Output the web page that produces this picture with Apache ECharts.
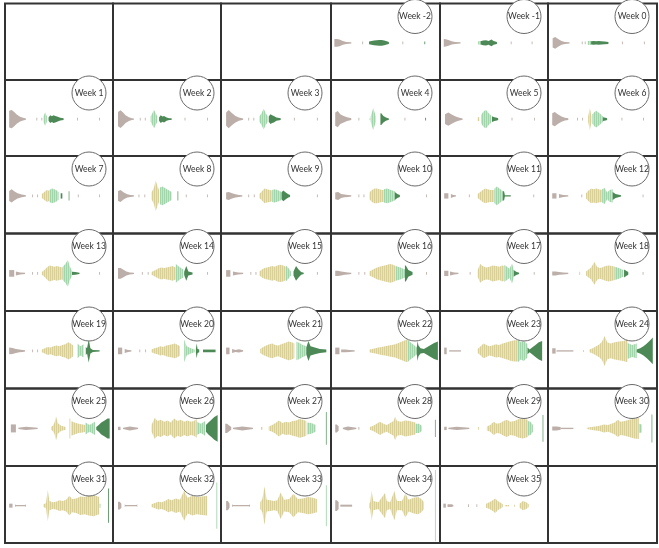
<!DOCTYPE html>
<html><head><meta charset="utf-8">
<script src="https://cdn.jsdelivr.net/npm/echarts@6/dist/echarts.min.js"></script>
<style>html,body{margin:0;padding:0;background:#fff;}#c{width:659px;height:548px;}</style>
</head><body><div id="c"></div>
<script>
// ---- DATA: each segment = [colourCode, x, halfHeight, x, halfHeight, ...] ----
const weekLabels = ['Week -2','Week -1','Week 0','Week 1','Week 2','Week 3','Week 4','Week 5','Week 6','Week 7','Week 8','Week 9','Week 10','Week 11','Week 12','Week 13','Week 14','Week 15','Week 16','Week 17','Week 18','Week 19','Week 20','Week 21','Week 22','Week 23','Week 24','Week 25','Week 26','Week 27','Week 28','Week 29','Week 30','Week 31','Week 32','Week 33','Week 34','Week 35'];

const weekM2 = [['g',8,12,14,12,20,10,28,6,36,3,48,2],['g',74,4,76,4],['d',90,4,96,6,102,7,108,8,114,9,120,9,126,7,132,5,137,3],['g',169,4,171,4],['d',221,4,223,4]];
const weekM1 = [['g',9,12,14,11,20,9,28,5,36,3,49,2],['l',91,5,97,6],['d',97,5,103,7,110,8,116,6,123,10,128,6,136,3],['g',169,4,171,4],['g',219,4,221,4]];
const week0 = [['g',11,14,17,18,24,12,32,6,40,3,51,2],['g',80,4,82,4],['g',87,4,89,4],['l',94,6,102,6],['d',102,5,108,6,114,5,120,6,126,5,134,4,143,3],['g',175,4,177,4],['g',227,4,229,4]];
const week1 = [['g',10,26,16,28,22,22,28,14,36,7,43,4,50,2],['g',75,4,77,4],['g',87,4,89,4],['l',92,8,96,21,100,8],['d',104,5,108,12,112,9,116,12,120,10,126,7,132,4,140,3],['g',172,4,174,4],['g',225,4,227,4]];
const week2 = [['g',12,22,18,27,24,20,30,12,38,6,45,3,50,2],['g',64,4,66,4],['g',76,4,78,4],['l',90,8,98,28,106,8],['d',110,5,114,12,118,8,122,10,128,5,134,3,140,3],['g',171,4,173,4],['g',225,4,227,4]];
const week3 = [['g',12,20,18,28,26,18,34,10,42,5,52,2],['g',64,4,66,4],['g',76,4,78,4],['l',90,8,95,18,100,32,105,18,110,8],['d',112,8,116,15,120,12,124,10,130,5,140,3],['g',171,4,173,4],['g',225,4,227,4]];
const week4 = [['g',10,20,16,25,22,15,30,10,38,6,48,3],['g',65,4,67,4],['y',91,3,93,3],['l',94,8,100,34,106,8],['d',117,18,119,18,124,10,130,5,137,2],['g',174,4,176,4],['d',223,4,225,4]];
const week5 = [['g',12,15,20,20,28,14,36,9,44,5,54,2],['y',90,6,94,6],['l',98,12,102,20,106,26,110,28,114,22,118,16,122,12],['d',124,9,130,6,136,4,139,3],['g',171,4,173,4],['g',225,4,227,4]];
const week6 = [['g',10,18,16,22,24,14,32,8,40,4,48,3],['g',69,4,71,4],['g',81,4,83,4],['y',95,8,99,34,103,8],['l',105,14,110,22,114,26,118,22,124,16,130,8],['d',130,6,136,4,140,3],['g',174,4,176,4],['g',225,4,227,4]];
const week7 = [['g',10,15,16,20,22,14,30,8,40,4,50,2],['g',65,4,67,4],['g',77,4,79,4],['y',88,6,94,12,98,16,102,18,106,14],['l',106,18,112,22,118,20,124,16,128,10],['d',133,8,137,8],['m',152,14,154,14],['g',174,4,176,4],['g',225,4,227,4]];
const week8 = [['g',12,15,18,18,26,10,34,5,42,3,50,2],['g',61,4,63,4],['g',75,4,77,4],['y',92,10,98,25,102,46,106,30,110,18],['l',112,25,118,28,124,24,132,18,140,12],['m',154,14,156,14],['g',174,4,176,4],['g',225,4,227,4]];
const week9 = [['g',12,10,18,12,26,8,34,5,42,3,50,2],['g',64,4,66,4],['g',77,4,79,4],['y',90,6,96,14,102,22,108,20,114,18,120,16],['l',120,18,126,20,134,17,142,12],['d',142,10,146,16,152,10,158,5,162,3],['g',225,4,227,4]];
const week10 = [['g',10,10,17,12,24,6,32,4,40,3,48,2],['g',65,4,67,4],['g',77,4,79,4],['y',91,10,97,18,103,22,109,22,115,20,121,18,125,18],['l',125,20,133,22,142,18,151,14],['d',151,12,157,6,163,3],['g',225,4,227,4]];
const week11 = [['g',10,8,20,8],['g',26,6,32,3,38,2],['g',69,4,71,4],['y',90,6,96,12,102,18,108,22,114,20,120,18,130,18],['l',130,22,136,28,142,22,150,14],['d',150,14,153,14,155,2,169,2],['g',223,4,225,4]];
const week12 = [['g',10,8,20,8],['g',26,6,36,3,48,2],['g',79,4,81,4],['y',90,8,96,16,102,22,108,20,114,22,120,20,128,18],['l',128,20,134,24,140,10,146,18,153,20],['d',153,12,160,6,173,2],['g',224,4,226,4]];
const week13 = [['g',10,10,22,10],['g',26,6,36,3,48,2],['g',65,4,67,4],['g',77,4,79,4],['y',88,4,94,10,100,18,106,24,112,22,118,20,124,22,130,20,138,18],['l',138,20,144,28,150,40,155,20,160,8],['d',160,5,168,4,178,2],['g',225,4,227,4]];
const week14 = [['g',12,16,18,16,24,12,32,6,40,3,50,2],['g',69,4,71,4],['g',83,4,85,4],['y',92,4,98,8,104,12,110,16,116,18,122,16,128,18,136,20,142,22,150,18],['l',150,28,158,20,168,12],['d',170,5,175,22,180,6,190,3],['g',225,4,227,4]];
const week15 = [['g',12,10,22,10],['g',28,6,40,3,52,2],['g',69,4,71,4],['g',81,4,83,4],['y',90,6,96,12,102,16,108,18,114,20,120,22,126,20,132,24,138,26,146,24,152,20],['l',152,24,158,16,164,6],['d',170,6,176,22,182,12,188,4,194,2],['g',225,4,227,4]];
const week16 = [['g',10,8,16,8,24,6,32,4,40,3,48,2],['g',65,4,67,4],['g',79,4,81,4],['y',91,6,97,10,103,14,109,18,115,20,121,22,127,24,133,26,140,28,147,26,153,22],['l',153,22,164,18,175,12],['d',175,24,177,24,183,10,193,4],['g',225,4,227,4]];
const week17 = [['g',10,8,20,8],['g',24,6,34,3,44,2],['g',71,4,73,4],['y',90,10,96,28,102,22,110,18,118,20,126,24,134,22,142,20,148,24,154,22],['l',154,26,160,20,166,14,172,30,176,12],['d',176,10,182,5,189,2],['g',224,4,226,4]];
const week18 = [['g',10,6,18,6,26,4,36,3,48,2],['y',74,5,76,5],['y',90,6,96,12,102,18,110,34,116,20,122,16,128,18,136,22,144,24,152,22,158,20],['l',158,20,168,16,178,10],['d',180,12,185,8,190,4],['g',224,4,226,4]];
const week19 = [['g',10,10,18,9,26,6,34,4,42,3,48,2],['g',65,4,67,4],['g',77,4,79,4],['y',88,4,95,8,102,12,109,10,116,14,123,16,130,14,137,18,144,20,151,26,157,22,163,16],['l',173,22,180,14,188,20],['d',193,12,196,8,200,35,204,8,210,3,226,2]];
const week20 = [['g',12,10,22,10],['g',28,6,36,3,44,2],['g',63,4,65,4],['g',77,4,79,4],['y',92,4,99,8,106,10,113,14,120,12,127,16,134,18,141,20,148,22,155,18,160,14],['l',170,34,176,14,186,8,195,4],['d',198,6,200,22,202,6,206,4],['d',215,4,245,4]];
const week21 = [['g',12,10,20,10],['g',26,6,34,3,42,5,52,2],['y',92,6,99,12,106,16,113,20,120,22,127,18,134,16,141,20,150,24,158,28,166,26,172,22],['l',177,28,184,24,192,18,200,14],['d',200,10,205,30,210,14,220,10,232,6,247,4]];
const week22 = [['g',10,10,20,10],['g',24,4,34,4,44,3,56,2],['y',91,4,98,6,105,8,112,10,120,12,128,14,136,16,144,18,152,20,160,24,168,28,175,32,181,34],['l',181,34,188,26,196,18,203,10],['d',203,10,205,30,207,16,212,8,220,6,228,12,236,18,244,24,253,28]];
const week23 = [['g',10,10,16,10],['g',22,2,50,2],['y',90,6,97,14,104,22,111,18,118,14,125,16,133,20,141,18,150,22,160,26,170,30,178,32,186,32],['l',186,34,193,26,200,30,209,20],['d',209,10,214,4,220,10,228,18,236,26,244,30]];
const week24 = [['g',10,8,18,8],['g',20,2,60,2],['y',83,3,85,3],['y',98,4,106,8,114,14,122,20,128,28,134,45,140,26,148,22,158,26,168,28,178,30,188,34],['l',188,24,199,18,210,22],['d',210,4,218,8,226,14,234,22,242,32,248,40]];
const week25 = [['g',14,12,26,12],['g',32,2,50,5,78,2],['y',110,4,114,8,118,16,122,36,126,16,134,8,145,4],['y',154,30,156,30],['y',158,22,166,18,176,14,186,12,192,10],['l',192,18,202,10,215,20],['d',218,4,224,10,230,18,238,24,245,30,250,30]];
const week26 = [['g',12,5,18,5],['g',24,2,40,6,60,2],['y',92,10,100,32,106,22,114,26,122,20,130,24,138,18,146,30,154,22,162,26,170,20,178,24,186,20,193,22,200,28],['l',200,20,210,14,220,22],['d',222,10,228,18,235,26,242,34,250,40]];
const week27 = [['g',10,14,14,14,20,8,24,4],['g',28,2,50,6,75,2],['y',94,4,97,4],['y',112,6,120,10,128,16,136,24,144,16,152,20,160,18,168,22,176,24,184,28,192,26,200,22],['l',202,18,212,16,222,10],['m',246,49,248,49]];
const week28 = [['g',10,12,14,12,18,6],['g',28,2,40,6,60,2],['g',65,4,67,4],['y',92,4,100,8,108,14,116,20,124,14,132,10,140,16,148,22,152,36,156,22,166,20,176,24,186,22,200,18],['l',200,14,208,14,215,8],['m',246,26,248,26]];
const week29 = [['g',10,5,16,5],['g',20,2,40,5,70,2],['y',91,4,93,4],['y',112,6,120,10,128,20,136,14,144,16,152,22,160,26,168,20,178,22,188,28,198,30,210,26],['l',210,22,216,20,222,10],['m',245,40,247,40]];
const week30 = [['g',10,6,20,6,30,4],['g',30,2,60,2],['y',92,2,102,4,112,6,122,8,132,12,142,10,150,14,158,18,165,26,172,20,182,22,192,26,204,30,215,32],['l',215,14,222,12],['m',245,42,247,42]];
const week31 = [['g',10,6,18,6],['g',24,4,26,2,48,2,50,4],['y',92,4,98,8,102,48,106,14,114,10,122,12,130,16,138,14,146,18,154,30,160,20,170,22,180,28,190,26,200,30,212,32,225,26],['l',226,6,228,6],['d',246,52,248,52]];
const week32 = [['g',12,12,16,12,20,6],['g',28,4,30,2,56,2,58,4],['y',92,4,100,8,108,12,116,10,124,14,132,20,140,16,150,22,160,18,170,46,178,24,190,30,200,26,212,28,225,30],['l',247,70,249,70]];
const week33 = [['g',12,14,16,14,20,6],['g',26,4,28,2,66,2,68,4],['y',92,10,97,20,102,58,107,18,116,16,124,14,132,16,140,40,148,18,160,20,170,36,180,20,192,22,204,26,215,24,225,20],['l',246,62,248,62]];
const week34 = [['g',10,16,14,16,18,10],['g',22,3,50,3],['y',90,6,93,12,96,46,100,14,112,10,128,38,132,14,140,10,150,44,156,14,168,14,176,36,184,18,196,24,206,26,214,20,220,10],['l',246,108,248,108]];
const week35 = [['g',8,6,14,6],['g',18,4,28,4,32,2],['g',67,4,69,4],['g',87,4,89,4],['y',110,6,118,10,126,16,132,22,138,14,146,8,150,4],['y',155,2,165,2],['y',177,3,179,3],['y',190,6,198,14,206,10,212,4]];

const profiles = [weekM2, weekM1, week0, week1, week2, week3, week4, week5, week6, week7, week8, week9, week10, week11, week12, week13, week14, week15, week16, week17, week18, week19, week20, week21, week22, week23, week24, week25, week26, week27, week28, week29, week30, week31, week32, week33, week34, week35];

// ---- STYLE / LAYOUT ----
const palette = {g:'#bcaea8', y:'#d9d099', l:'#a2d5ab', d:'#4c8956', m:'#6fa676'};
const stripeLight = {y:'#e9e3bf', l:'#c6e6cb'};
const colX = [5,113,221,331,440,548,657];
const rowY = [3.5,80,156,233.5,311,388.5,466,543];
const firstCell = 3;

function stripe(code){
  if (!stripeLight[code]) return palette[code];
  const cv = document.createElement('canvas');
  cv.width = 2; cv.height = 1;
  const ctx = cv.getContext('2d');
  ctx.fillStyle = palette[code]; ctx.fillRect(0,0,1,1);
  ctx.fillStyle = stripeLight[code]; ctx.fillRect(1,0,1,1);
  return {image: cv, repeat: 'repeat'};
}
const fills = {};
Object.keys(palette).forEach(k => fills[k] = stripe(k));

function makeRender(prof){
  return function(params, api){
    const seg = prof[params.dataIndex];
    const top = [], bot = [];
    for (let i = 1; i < seg.length; i += 2){
      top.push(api.coord([seg[i], seg[i+1]]));
      bot.push(api.coord([seg[i], -seg[i+1]]));
    }
    const narrow = (seg[seg.length-2] - seg[1]) <= 3;
    return {type:'polygon', shape:{points: top.concat(bot.reverse())}, style:{fill: narrow ? palette[seg[0]] : fills[seg[0]]}};
  };
}

const grids=[], xAxes=[], yAxes=[], series=[], graphics=[];
for (let idx = 0; idx < 42; idx++){
  const r = Math.floor(idx/6), c = idx % 6;
  const left = colX[c], top = rowY[r], w = colX[c+1]-left, h = rowY[r+1]-top;
  grids.push({left:left, top:top, width:w, height:h, show:true, borderColor:'#333', borderWidth:2, backgroundColor:'transparent'});
  xAxes.push({type:'value', gridIndex:idx, min:0, max:258, show:false});
  yAxes.push({type:'value', gridIndex:idx, min:-113, max:120, show:false});
  const wi = idx - firstCell;
  if (wi >= 0 && wi < profiles.length){
    series.push({type:'custom', xAxisIndex:idx, yAxisIndex:idx, silent:true, clip:false,
      data: profiles[wi].map(s => [s[1], 0]), encode:{x:0, y:1}, renderItem: makeRender(profiles[wi])});
    const cx = left + 84, cy = top + 13;
    graphics.push({type:'circle', z:100, shape:{cx:cx, cy:cy, r:17}, style:{fill:'#fff', stroke:'#6a6a6a', lineWidth:1}});
    graphics.push({type:'text', z:101, x:cx, y:cy, style:{text:weekLabels[wi], font:'8.5px Lato', fill:'#333', textAlign:'center', textVerticalAlign:'middle', align:'center', verticalAlign:'middle'}});
  }
}

const chart = echarts.init(document.getElementById('c'), null, {renderer:'canvas'});
chart.setOption({animation:false, grid:grids, xAxis:xAxes, yAxis:yAxes, series:series, graphic:graphics});
</script></body></html>
